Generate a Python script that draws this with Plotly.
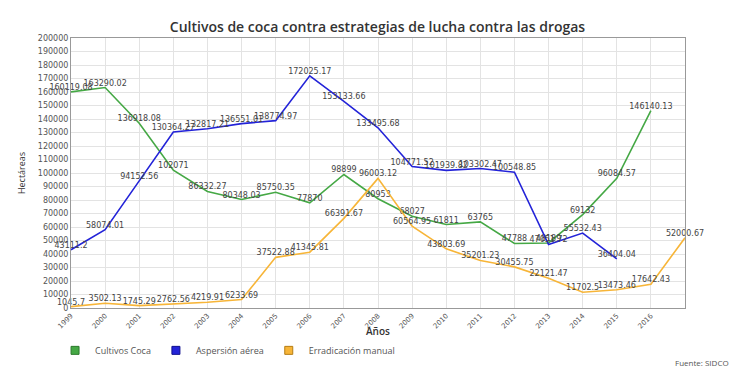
import plotly.graph_objects as go

years = [1999, 2000, 2001, 2002, 2003, 2004, 2005, 2006, 2007, 2008, 2009,
         2010, 2011, 2012, 2013, 2014, 2015, 2016, 2017]
tick_years = years[:18]
tick_labels = [str(y) for y in tick_years]

cultivos = [160119.08, 163290.02, 136918.08, 102071, 86332.27, 80348.03, 85750.35,
            77870, 98899, 80953, 68027, 61811, 63765, 47788, 48189, 69132,
            96084.57, 146140.13]
aspersion = [43111.2, 58074.01, 94152.56, 130364.27, 132817.21, 136551.01, 138774.97,
             172025.17, 153133.66, 133495.68, 104771.52, 101939.82, 103302.47,
             100548.85, 47051.72, 55532.43, 36404.04]
erradicacion = [1045.7, 3502.13, 1745.29, 2762.56, 4219.91, 6233.69, 37522.88,
                41345.81, 66391.67, 96003.12, 60564.95, 43803.69, 35201.23,
                30455.75, 22121.47, 11702.5, 13473.46, 17642.43, 52000.67]

names = ["Cultivos Coca", "Aspersión aérea", "Erradicación manual"]
colors = ["#45a845", "#2323d8", "#f7b538"]
borders = ["#2d7a2d", "#10108f", "#b57d14"]
series = [cultivos, aspersion, erradicacion]

def fmt(v):
    s = f"{v:.2f}".rstrip("0").rstrip(".")
    return s

fig = go.Figure()
for name, col, vals in zip(names, colors, series):
    fig.add_trace(go.Scatter(
        x=years[:len(vals)], y=vals, mode="lines+text",
        text=[fmt(v) for v in vals], textposition="top center",
        textfont=dict(family="DejaVu Sans", size=8, color="#444444"),
        line=dict(color=col, width=1.6), showlegend=False, cliponaxis=False,
        hoverinfo="x+y", name=name))

for name, col, bc in zip(names, colors, borders):
    fig.add_trace(go.Scatter(
        x=[None], y=[None], mode="markers", name=name,
        marker=dict(symbol="square", size=8, color=col, line=dict(color=bc, width=1))))

fig.update_layout(
    width=739, height=388,
    margin=dict(l=63, r=62, t=30, b=88, autoexpand=False),
    paper_bgcolor="white", plot_bgcolor="white",
    title=dict(text="Cultivos de coca contra estrategias de lucha contra las drogas",
               x=0.5, xanchor="center", y=0.952, yanchor="middle",
               font=dict(family="Open Sans", size=14, color="#333333", weight=600)),
    legend=dict(orientation="h", x=-0.026, xanchor="left",
                yref="container", y=0.155, yanchor="top",
                font=dict(family="Open Sans", size=9, color="#555555"),
                itemwidth=30),
    font=dict(family="DejaVu Sans", color="#555555"),
)
fig.update_xaxes(
    range=[1999, 2017], tickvals=tick_years, ticktext=tick_labels, tickangle=-45,
    tickfont=dict(family="DejaVu Sans", size=7, color="#555555"),
    showgrid=True, gridcolor="#e3e3e3", gridwidth=1,
    showline=True, linecolor="#999999", linewidth=1, mirror=True,
    zeroline=False, automargin=False,
)
fig.update_yaxes(
    range=[0, 200000], dtick=10000, tickformat="d",
    tickfont=dict(family="DejaVu Sans", size=8, color="#555555"),
    showgrid=True, gridcolor="#e3e3e3", gridwidth=1,
    showline=True, linecolor="#999999", linewidth=1, mirror=True,
    zeroline=False, automargin=False,
    title=dict(text="Hectáreas", standoff=10,
               font=dict(family="Open Sans", size=9, color="#333333")),
)
fig.add_annotation(text="Años", xref="paper", yref="paper",
                   x=0.5, xanchor="center", y=-0.085, yanchor="middle",
                   showarrow=False,
                   font=dict(family="Open Sans", size=10, color="#333333", weight=600))
fig.add_annotation(text="Fuente: SIDCO", xref="paper", yref="paper",
                   x=1.075, xanchor="right", y=-0.2, yanchor="middle",
                   showarrow=False,
                   font=dict(family="Open Sans", size=8, color="#555555"))

fig.write_html("out.html")
